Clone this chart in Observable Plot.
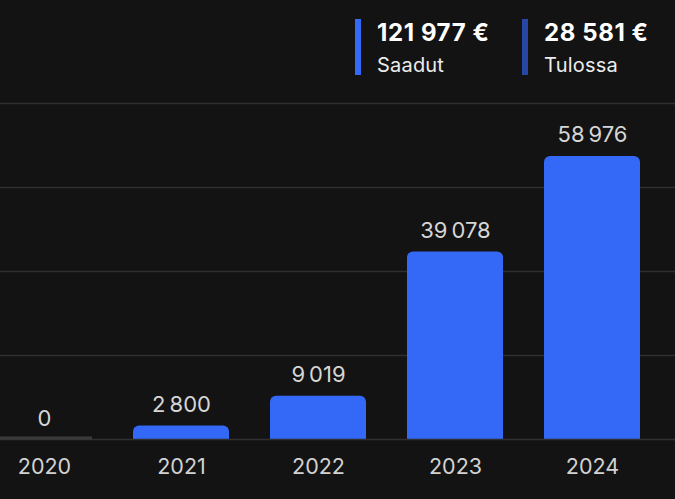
<!DOCTYPE html>
<html>
<head>
<meta charset="utf-8">
<script src="https://cdn.jsdelivr.net/npm/d3@7"></script>
<script src="https://cdn.jsdelivr.net/npm/@observablehq/plot@0.6"></script>
<style>
  html, body { margin: 0; padding: 0; background: #131313; overflow: hidden; }
  body { width: 675px; height: 499px; font-family: Inter, "Noto Sans", sans-serif; }
  #legend { position: relative; width: 675px; height: 95px; }
  .swatch { position: absolute; top: 19px; width: 6px; height: 56px; }
  .val { position: absolute; top: 21px; font-size: 24px; line-height: 24px; font-weight: 700; color: #ffffff; white-space: nowrap; letter-spacing: 0.6px; }
  .lab { position: absolute; top: 55px; font-size: 20px; line-height: 20px; font-weight: 400; color: #ececec; white-space: nowrap; letter-spacing: 0.2px; }
  #chart svg { display: block; }
</style>
</head>
<body>
<div id="legend"></div>
<div id="chart"></div>
<script>
const years = ["2020", "2021", "2022", "2023", "2024"];
const received = [0, 2800, 9019, 39078, 58976];
const gridTicks = [17500, 35000, 52500, 70000];
const legendLabels = ["Saadut", "Tulossa"];
const legendValues = [121977, 28581];
const legendColors = ["#3369f6", "#2647a6"];

const fi = d3.formatLocale({decimal: ",", thousands: "\u00a0", grouping: [3], currency: ["", "\u00a0€"]});
const fiNarrow = d3.formatLocale({decimal: ",", thousands: "\u202f", grouping: [3], currency: ["", "\u00a0€"]});
const fmt = fiNarrow.format(",d");
const fmtEur = fi.format("$,d");

// Legend
const legend = document.getElementById("legend");
const legendX = [355, 522];
legendLabels.forEach((lab, i) => {
  const sw = document.createElement("div");
  sw.className = "swatch";
  sw.style.left = legendX[i] + "px";
  sw.style.background = legendColors[i];
  legend.appendChild(sw);
  const v = document.createElement("div");
  v.className = "val";
  v.style.left = (legendX[i] + 22) + "px";
  v.textContent = fmtEur(legendValues[i]);
  legend.appendChild(v);
  const l = document.createElement("div");
  l.className = "lab";
  l.style.left = (legendX[i] + 22) + "px";
  l.textContent = lab;
  legend.appendChild(l);
});

const data = years.map((y, i) => ({year: y, value: received[i]}));
const nonZero = data.filter(d => d.value > 0);
const zero = data.filter(d => d.value === 0);

const chart = Plot.plot({
  width: 675,
  height: 404,
  marginTop: 8,
  marginBottom: 60,
  marginLeft: 0,
  marginRight: 0,
  style: {background: "#131313", fontFamily: "Inter, 'Noto Sans', sans-serif", overflow: "hidden"},
  x: {domain: years, range: [-26, 661.5], paddingInner: 0.3, paddingOuter: 0.15, label: null},
  y: {domain: [0, 70000], axis: null},
  marks: [
    Plot.ruleY(gridTicks, {stroke: "#2f2f2f", strokeWidth: 1.5}),
    Plot.barY(nonZero, {x: "year", y: "value", fill: legendColors[0], rx: 6}),
    Plot.barY(nonZero, {x: "year", y1: 0, y2: d => d.value / 2, fill: legendColors[0]}),
    Plot.ruleY([0], {stroke: "#303030", strokeWidth: 1.5}),
    Plot.tickY(zero, {x: "year", y: "value", stroke: "#3a3a3a", strokeWidth: 3, dy: -1.5}),
    Plot.text(data, {x: "year", y: "value", text: d => fmt(d.value), dy: -21, lineAnchor: "middle", fill: "#d6d6d6", fontSize: 22}),
    Plot.axisX({tickSize: 0, tickPadding: 19.5, fontSize: 21.5, color: "#d2d2d2", label: null})
  ]
});
document.getElementById("chart").appendChild(chart);
</script>
</body>
</html>
